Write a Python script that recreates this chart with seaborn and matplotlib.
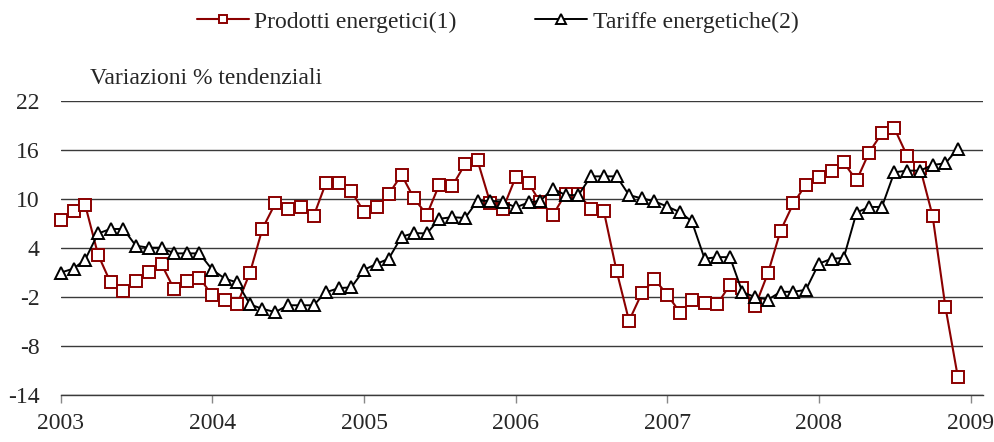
import pandas as pd
import numpy as np
import matplotlib
matplotlib.use('Agg')
import matplotlib.pyplot as plt
import matplotlib.dates as mdates
import seaborn as sns

# Dati mensili gen 2003 - dic 2008 (variazioni % tendenziali)
months = pd.date_range('2003-01-01', periods=72, freq='MS')

prodotti = [
    7.4, 8.6, 9.3, 3.2, -0.2, -1.2, 0.0, 1.1, 2.0, -1.0, 0.0, 0.4,
    -1.8, -2.4, -2.9, 1.0, 6.4, 9.5, 8.85, 9.06, 7.9, 12.0, 12.0, 11.0,
    8.4, 9.1, 10.6, 13.0, 10.1, 8.1, 11.8, 11.6, 14.3, 14.75, 9.5, 8.8,
    12.7, 12.0, 9.6, 8.1, 10.65, 10.65, 8.85, 8.6, 1.2, -4.9, -1.5, 0.2,
    -1.7, -3.9, -2.4, -2.7, -2.9, -0.5, -0.9, -3.1, 1.0, 6.15, 9.5, 11.8,
    12.7, 13.5, 14.5, 12.3, 15.7, 18.1, 18.7, 15.3, 13.85, 8.0, -3.2, -11.8,
]

tariffe = [
    1.0, 1.5, 2.6, 5.8, 6.35, 6.35, 4.3, 4.06, 4.06, 3.36, 3.36, 3.36,
    1.36, 0.25, -0.2, -2.9, -3.44, -3.84, -3.0, -3.0, -3.0, -1.4, -0.9, -0.8,
    1.36, 2.1, 2.7, 5.4, 5.85, 5.8, 7.6, 7.8, 7.7, 9.8, 9.8, 9.7,
    9.0, 9.6, 9.8, 11.3, 10.5, 10.5, 12.8, 12.8, 12.8, 10.5, 10.1, 9.75,
    9.1, 8.4, 7.3, 2.7, 2.9, 2.9, -1.4, -2.0, -2.3, -1.35, -1.35, -1.1,
    2.1, 2.7, 2.8, 8.36, 9.05, 9.05, 13.3, 13.5, 13.5, 14.2, 14.4, 16.2,
]

y_ticks = [-14, -8, -2, 4, 10, 16, 22]

sns.set_style('white')
plt.rcParams['font.family'] = ['Liberation Serif', 'DejaVu Serif']
plt.rcParams['axes.unicode_minus'] = False

fig = plt.figure(figsize=(9.95, 4.42), dpi=100)
ax = fig.add_axes([0.061, 0.1063, 0.9267, 0.6645])

sns.lineplot(
    x=months, y=prodotti, ax=ax, color='#8B0000', linewidth=1.5,
    marker='s', markersize=8, markerfacecolor='white',
    markeredgecolor='#8B0000', markeredgewidth=1.4,
    label='Prodotti energetici(1)', zorder=3, clip_on=False,
)
sns.lineplot(
    x=months, y=tariffe, ax=ax, color='black', linewidth=1.4,
    marker='^', markersize=8.5, markerfacecolor='white',
    markeredgecolor='black', markeredgewidth=1.4,
    label='Tariffe energetiche(2)', zorder=4, clip_on=False,
)

ax.set_ylim(-14, 22)
ax.set_yticks(y_ticks)
ax.set_xlim(pd.Timestamp('2003-01-01'), pd.Timestamp('2009-01-30'))
ax.xaxis.set_major_locator(mdates.YearLocator())
ax.xaxis.set_major_formatter(mdates.DateFormatter('%Y'))

ax.grid(axis='y', color='#3a3a3a', linewidth=1)
ax.grid(axis='x', visible=False)
ax.set_axisbelow(True)

for side in ['top', 'right', 'left']:
    ax.spines[side].set_visible(False)
ax.spines['bottom'].set_color('#3a3a3a')
ax.spines['bottom'].set_linewidth(1)

ax.tick_params(axis='y', length=0, pad=15, labelsize=17)
ax.tick_params(axis='x', length=6, width=1, color='#888888', direction='out',
               pad=7, labelsize=17, bottom=True)
ax.set_xlabel('')
ax.set_ylabel('')

fig.text(90 / 995, 1 - 78 / 442, 'Variazioni % tendenziali', fontsize=17,
         va='center', ha='left')

ax.legend(loc='center', bbox_to_anchor=(0.5, 1 - 22 / 442), bbox_transform=fig.transFigure,
          ncol=2, frameon=False, fontsize=17, handlelength=2.2, columnspacing=3.3,
          handletextpad=0.25, markerscale=0.8)

fig.savefig('out.png', dpi=100)
